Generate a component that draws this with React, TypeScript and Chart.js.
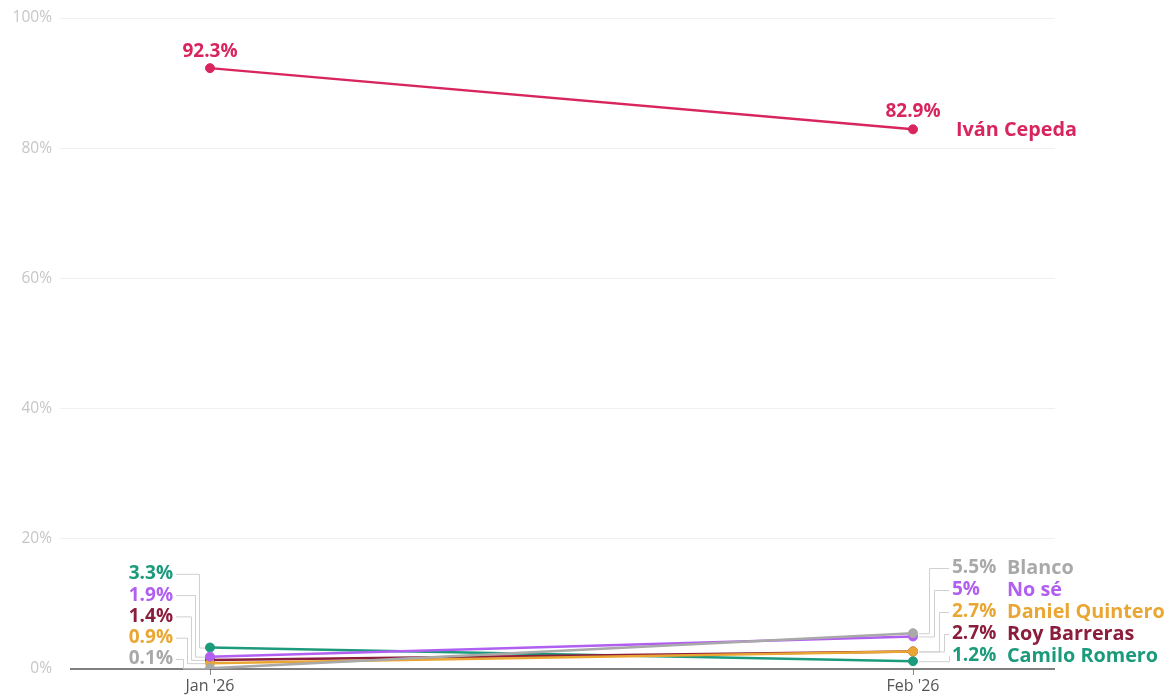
import React, { useEffect, useRef } from "react";
import { Chart, registerables } from "chart.js";
Chart.register(...registerables);

const months = ["Jan '26", "Feb '26"];
const names = ["Iván Cepeda", "Blanco", "No sé", "Daniel Quintero", "Roy Barreras", "Camilo Romero"];
const cepeda = [92.3, 82.9];
const blanco = [0.1, 5.5];
const noSe = [1.9, 5];
const quintero = [0.9, 2.7];
const barreras = [1.4, 2.7];
const romero = [3.3, 1.2];
const colors = ["#d8255e", "#a9a9a9", "#b05ff0", "#eaa632", "#8b1d3d", "#1b9a7c"];
const yTicks = [0, 20, 40, 60, 80, 100];

const allSeries = [cepeda, blanco, noSe, quintero, barreras, romero];
const FONT = "'Open Sans', Lato, sans-serif";
const fmt = (v: number) => `${v}%`;

function stackLabels(items: any[], bottomMax: number, gap: number) {
  // items ordered top-to-bottom
  let prev = Infinity;
  for (let i = items.length - 1; i >= 0; i--) {
    const y = Math.min(items[i].py, bottomMax, prev - gap);
    items[i].ly = y;
    prev = y;
  }
}

const labelPlugin = {
  id: "labelPlugin",
  beforeDatasetsDraw(chart: any) {
    const { ctx, chartArea } = chart;
    const xs = chart.scales.x;
    const ys = chart.scales.y;
    const y0 = ys.getPixelForValue(0);
    ctx.save();
    ctx.strokeStyle = "#555";
    ctx.lineWidth = 1.5;
    ctx.beginPath();
    ctx.moveTo(70, y0);
    ctx.lineTo(chartArea.right, y0);
    ctx.stroke();

    const xJan = xs.getPixelForValue(0);
    const xFeb = xs.getPixelForValue(1);

    const left = [1, 2, 3, 4, 5]
      .map((s) => ({ s, v: allSeries[s][0], py: ys.getPixelForValue(allSeries[s][0]) }))
      .sort((a, b) => b.v - a.v);
    stackLabels(left, y0 - 10, 21.3);
    const right = [1, 2, 3, 4, 5]
      .map((s) => ({ s, v: allSeries[s][1], py: ys.getPixelForValue(allSeries[s][1]) }))
      .sort((a, b) => b.v - a.v);
    stackLabels(right, y0 - 13, 22);
    chart.$labels = { left, right, xJan, xFeb };

    ctx.strokeStyle = "#d0d0d0";
    ctx.lineWidth = 1;
    left.forEach((it: any, i: number) => {
      const ex = xJan - 11 - i * 4;
      ctx.beginPath();
      ctx.moveTo(xJan - 34, it.ly + 0.5);
      ctx.lineTo(ex + 0.5, it.ly + 0.5);
      ctx.lineTo(ex + 0.5, it.py + 0.5);
      ctx.lineTo(xJan, it.py + 0.5);
      ctx.stroke();
    });
    right.forEach((it: any, i: number) => {
      const ex = xFeb + 16 + i * 5;
      ctx.beginPath();
      ctx.moveTo(xFeb + 6, it.py + 0.5);
      ctx.lineTo(ex + 0.5, it.py + 0.5);
      ctx.lineTo(ex + 0.5, it.ly + 0.5);
      ctx.lineTo(xFeb + 36, it.ly + 0.5);
      ctx.stroke();
    });
    ctx.restore();
  },
  afterDatasetsDraw(chart: any) {
    const { ctx } = chart;
    const ys = chart.scales.y;
    const { left, right, xJan, xFeb } = chart.$labels;
    ctx.save();
    ctx.textBaseline = "middle";
    const valFont = `bold 19px ${FONT}`;
    const nameFont = `bold 19.8px ${FONT}`;

    ctx.font = valFont;
    ctx.fillStyle = colors[0];
    ctx.textAlign = "center";
    ctx.fillText(fmt(cepeda[0]), xJan, ys.getPixelForValue(cepeda[0]) - 17);
    ctx.fillText(fmt(cepeda[1]), xFeb, ys.getPixelForValue(cepeda[1]) - 18);
    ctx.font = nameFont;
    ctx.textAlign = "left";
    ctx.fillText(names[0], xFeb + 43, ys.getPixelForValue(cepeda[1]) + 1);

    left.forEach((it: any) => {
      ctx.font = valFont;
      ctx.fillStyle = colors[it.s];
      ctx.textAlign = "right";
      ctx.fillText(fmt(it.v), xJan - 37, it.ly);
    });
    right.forEach((it: any) => {
      ctx.fillStyle = colors[it.s];
      ctx.textAlign = "left";
      ctx.font = valFont;
      ctx.fillText(fmt(it.v), xFeb + 39, it.ly);
      ctx.font = nameFont;
      ctx.fillText(names[it.s], xFeb + 94, it.ly);
    });
    ctx.restore();
  },
};

export default function App() {
  const ref = useRef<HTMLCanvasElement>(null);
  useEffect(() => {
    document.body.style.margin = "0";
    const datasets = allSeries.map((vals, s) => ({
      label: names[s],
      data: vals.map((v, i) => ({ x: i, y: v })),
      borderColor: colors[s],
      backgroundColor: colors[s],
      pointBackgroundColor: colors[s],
      pointBorderColor: colors[s],
      borderWidth: 2.5,
      pointRadius: 4.5,
      pointBorderWidth: 1,
      order: s,
    }));
    const chart = new Chart(ref.current!, {
      type: "line",
      data: { datasets },
      options: {
        animation: false,
        responsive: false,
        events: [],
        layout: { padding: { top: 18, right: 110, left: 0, bottom: 0 } },
        plugins: { legend: { display: false }, tooltip: { enabled: false } },
        scales: {
          x: {
            type: "linear",
            min: -150 / 703,
            max: 1 + 142 / 703,
            afterBuildTicks: (scale: any) => {
              scale.ticks = months.map((_, i) => ({ value: i }));
            },
            afterFit: (scale: any) => {
              scale.height = 29;
            },
            ticks: {
              callback: (v: any) => months[v] ?? "",
              color: "#555",
              font: { family: FONT, size: 16 },
              padding: 2,
              maxRotation: 0,
              autoSkip: false,
            },
            grid: { drawOnChartArea: false, drawTicks: true, tickLength: 6, color: "#888" },
            border: { display: false },
          },
          y: {
            min: 0,
            max: 100,
            afterBuildTicks: (scale: any) => {
              scale.ticks = yTicks.map((v) => ({ value: v }));
            },
            afterFit: (scale: any) => {
              scale.width = 60;
            },
            ticks: {
              callback: (v: any) => `${v}%`,
              color: "#c6c6c6",
              font: { family: FONT, size: 15.5 },
              padding: 8,
            },
            grid: {
              drawTicks: false,
              color: (c: any) => (c.tick && c.tick.value === 0 ? "rgba(0,0,0,0)" : "#f0f0f0"),
            },
            border: { display: false },
          },
        },
      },
      plugins: [labelPlugin],
    });
    return () => chart.destroy();
  }, []);
  return <canvas ref={ref} width={1165} height={698} style={{ display: "block" }} />;
}
